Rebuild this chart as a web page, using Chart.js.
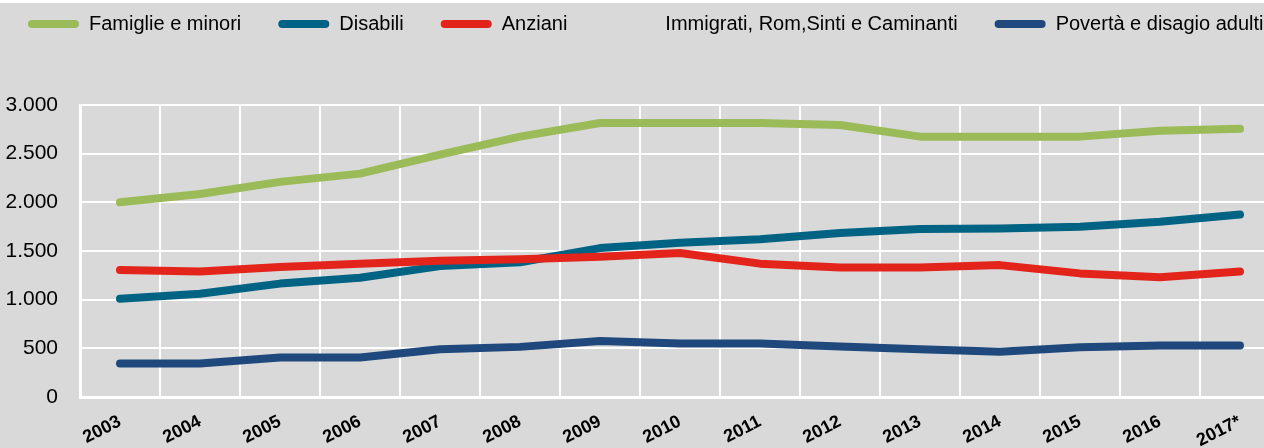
<!DOCTYPE html>
<html>
<head>
<meta charset="utf-8">
<script src="https://cdn.jsdelivr.net/npm/chart.js@4/dist/chart.umd.min.js"></script>
<style>
  html, body { margin: 0; padding: 0; background: #d9d9d9; overflow: hidden; width: 1264px; height: 448px; }
  #wrap { position: absolute; left: -9px; top: -23px; width: 1340px; height: 471px; }
  #topline { position: absolute; left: 0; top: 0; width: 1264px; height: 3px; background: #ffffff; z-index: 2; }
</style>
</head>
<body>
<div id="topline"></div>
<div id="wrap"><canvas id="lineChart" width="1340" height="471"></canvas></div>
<script>
// anni e valori
var anni = ['2003', '2004', '2005', '2006', '2007', '2008', '2009', '2010', '2011', '2012', '2013', '2014', '2015', '2016', '2017*'];
var famiglie = [2000, 2085, 2210, 2295, 2490, 2675, 2815, 2815, 2815, 2795, 2675, 2675, 2675, 2735, 2755];
var disabili = [1010, 1060, 1165, 1225, 1345, 1385, 1530, 1585, 1620, 1685, 1725, 1730, 1750, 1800, 1875];
var anziani = [1305, 1290, 1335, 1370, 1400, 1415, 1440, 1480, 1370, 1330, 1330, 1355, 1270, 1230, 1290];
var immigrati = [null, null, null, null, null, null, null, null, null, null, null, null, null, null, null];
var poverta = [345, 345, 405, 405, 490, 515, 575, 550, 550, 520, 490, 465, 510, 530, 530];
var yTicks = [0, 500, 1000, 1500, 2000, 2500, 3000];

var fontName = "'Liberation Sans', Arial, sans-serif";

function serie(label, data, color, ord) {
  return {
    label: label,
    data: data,
    borderColor: color,
    backgroundColor: color,
    borderWidth: 8,
    borderCapStyle: 'round',
    borderJoinStyle: 'round',
    pointRadius: 0,
    pointHoverRadius: 0,
    tension: 0,
    fill: false,
    order: ord
  };
}

// spazio tra legenda e grafico
var legendGap = {
  id: 'legendGap',
  beforeInit: function(chart) {
    var fit = chart.legend.fit;
    chart.legend.fit = function() {
      fit.call(this);
      this.height += 61;
    };
  }
};

var ctx = document.getElementById('lineChart').getContext('2d');
var myChart = new Chart(ctx, {
  type: 'line',
  data: {
    labels: anni,
    datasets: [
      serie('Famiglie e minori', famiglie, '#9bbb59', 1),
      serie('Disabili', disabili, '#006384', 1),
      serie('Anziani', anziani, '#e3241b', 0),
      serie('Immigrati, Rom,Sinti e Caminanti', immigrati, 'rgba(0,0,0,0)', 1),
      serie('Povertà e disagio adulti', poverta, '#1f497d', 1)
    ]
  },
  options: {
    responsive: false,
    animation: false,
    layout: { padding: 0 },
    scales: {
      x: {
        offset: true,
        grid: { color: '#ffffff', lineWidth: 2, drawTicks: false, offset: true },
        border: { color: '#ffffff', width: 3 },
        ticks: {
          color: '#000000',
          font: { family: fontName, size: 18, weight: 'bold' },
          minRotation: 27,
          maxRotation: 27,
          padding: 14,
          autoSkip: false
        },
        afterFit: function(scale) { scale.height = 51; }
      },
      y: {
        min: 0,
        max: 3000,
        grid: { color: '#ffffff', lineWidth: 2, drawTicks: false },
        border: { color: '#ffffff', width: 3 },
        afterBuildTicks: function(scale) {
          scale.ticks = yTicks.map(function(v) { return { value: v }; });
        },
        ticks: {
          color: '#000000',
          font: { family: fontName, size: 21 },
          padding: 22,
          callback: function(v) {
            return String(v).replace(/\B(?=(\d{3})+(?!\d))/g, '.');
          }
        },
        afterFit: function(scale) { scale.width = 89; }
      },
      // asse vuoto a destra: il grafico continua oltre il bordo
      y2: {
        position: 'right',
        grid: { display: false },
        border: { display: false },
        ticks: { display: false },
        afterFit: function(scale) { scale.width = 51; }
      }
    },
    plugins: {
      legend: {
        position: 'top',
        align: 'start',
        labels: {
          color: '#000000',
          font: { family: fontName, size: 20 },
          boxWidth: 51,
          boxHeight: 8,
          padding: 37,
          sort: function(a, b) { return a.datasetIndex - b.datasetIndex; },
          generateLabels: function(chart) {
            var items = Chart.defaults.plugins.legend.labels.generateLabels(chart);
            items.forEach(function(it) {
              it.lineWidth = 0;
              it.borderRadius = 4;
              it.fillStyle = chart.data.datasets[it.datasetIndex].borderColor;
            });
            return items;
          }
        }
      },
      tooltip: { enabled: false }
    }
  },
  plugins: [legendGap]
});
</script>
</body>
</html>
